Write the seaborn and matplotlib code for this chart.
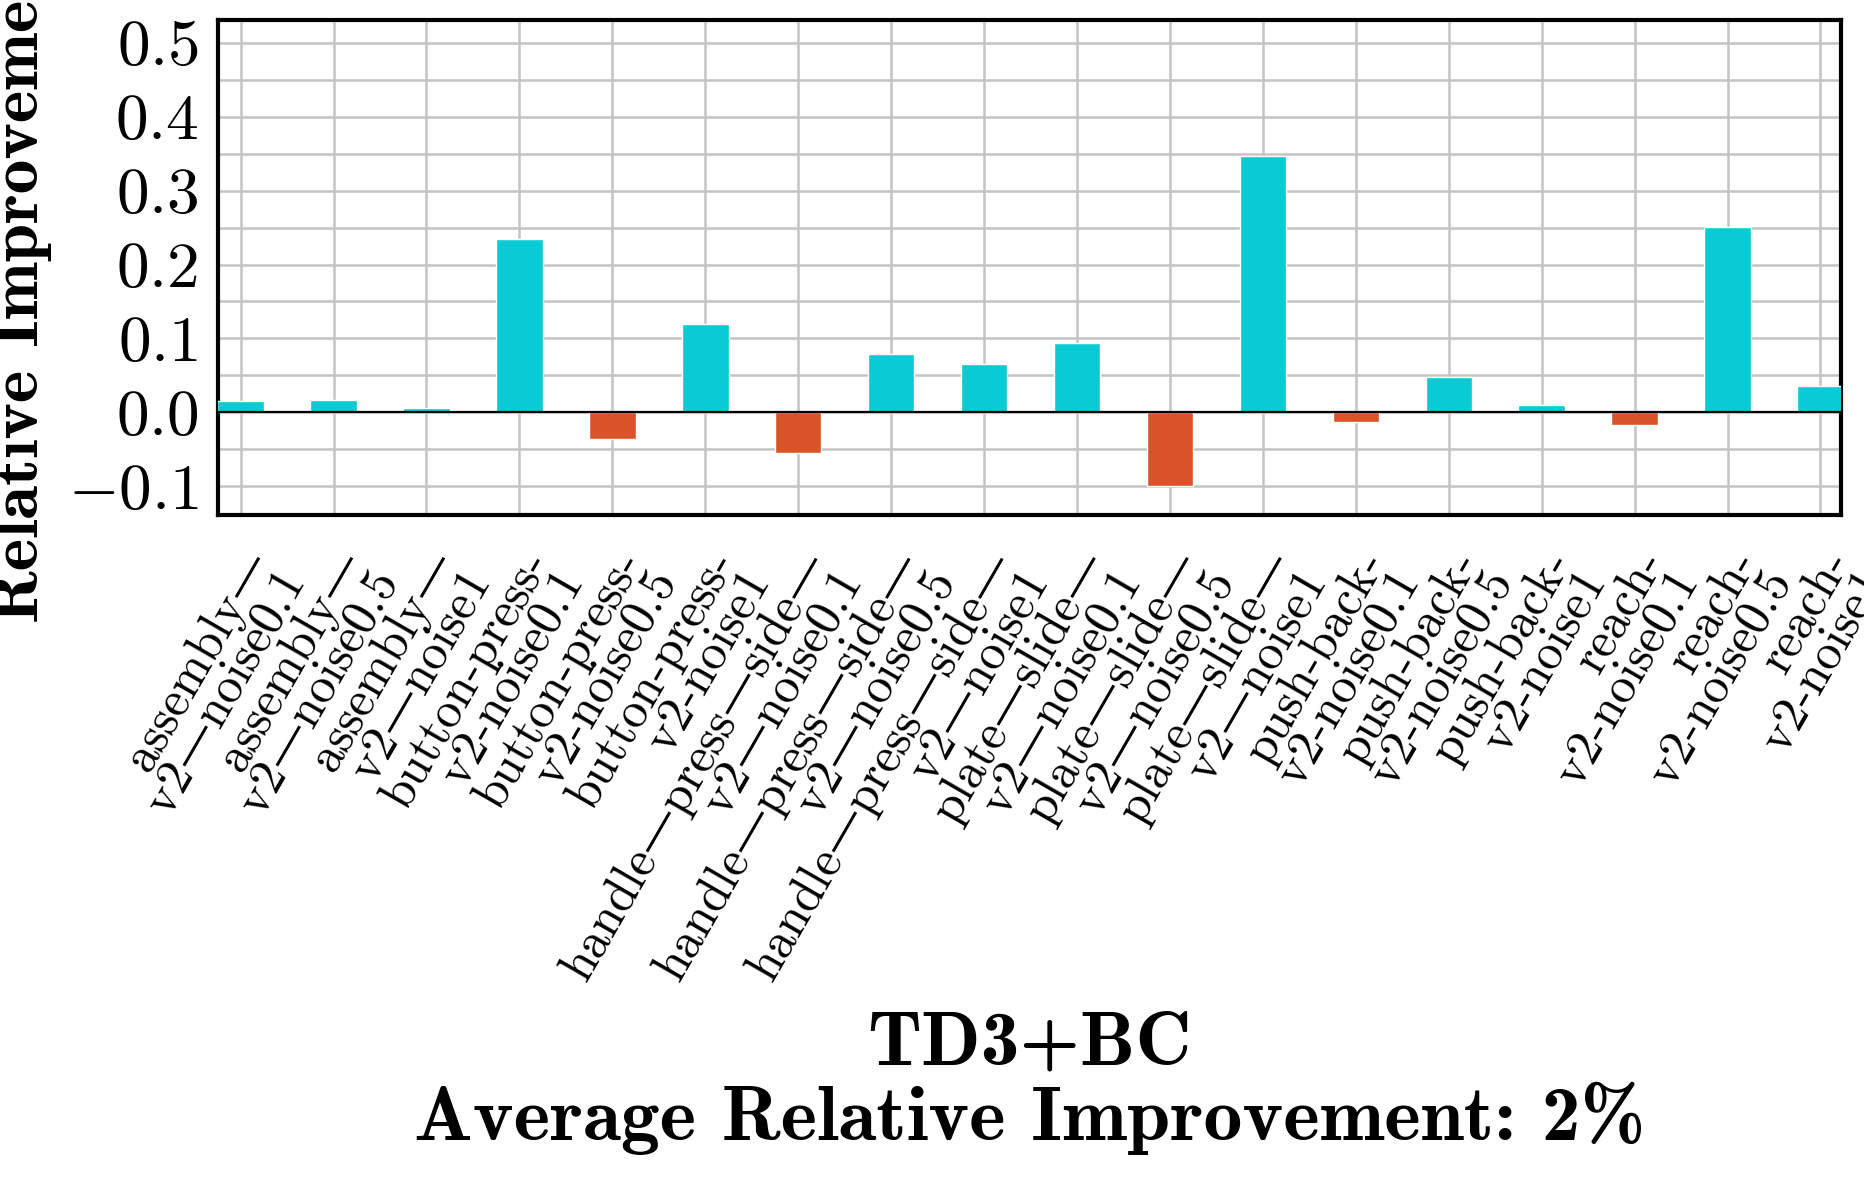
import numpy as np
import pandas as pd
import matplotlib
matplotlib.use("Agg")
import matplotlib.pyplot as plt
import seaborn as sns

tasks = [
    "assembly—\nv2—noise0.1", "assembly—\nv2—noise0.5", "assembly—\nv2—noise1",
    "button-press-\nv2-noise0.1", "button-press-\nv2-noise0.5", "button-press-\nv2-noise1",
    "handle—press—side—\nv2—noise0.1", "handle—press—side—\nv2—noise0.5", "handle—press—side—\nv2—noise1",
    "plate—slide—\nv2—noise0.1", "plate—slide—\nv2—noise0.5", "plate—slide—\nv2—noise1",
    "push-back-\nv2-noise0.1", "push-back-\nv2-noise0.5", "push-back-\nv2-noise1",
    "reach-\nv2-noise0.1", "reach-\nv2-noise0.5", "reach-\nv2-noise1",
]
improvement = [0.015, 0.016, 0.006, 0.235, -0.036, 0.120, -0.055, 0.079, 0.065,
               0.094, -0.100, 0.347, -0.013, 0.048, 0.010, -0.017, 0.251, 0.036]
y_ticks = [-0.1, 0.0, 0.1, 0.2, 0.3, 0.4, 0.5]
title_text = "TD3+BC\nAverage Relative Improvement: 2%"
ylabel_text = "Relative Improvement"

POS, NEG = "#0ACBD3", "#D95429"

sns.set_theme(style="white")
plt.rcParams["font.family"] = ["cmr10", "DejaVu Serif"]
plt.rcParams["mathtext.fontset"] = "cm"
plt.rcParams["axes.formatter.use_mathtext"] = True
plt.rcParams["text.color"] = "black"
plt.rcParams["axes.labelcolor"] = "black"

df = pd.DataFrame({"task": tasks, "value": improvement})
df["sign"] = np.where(df["value"] >= 0, "pos", "neg")

fig = plt.figure(figsize=(18.65, 11.79), dpi=100)
ax = fig.add_axes([0.1169, 0.5632, 0.8702, 0.4198])

sns.barplot(data=df, x="task", y="value", hue="sign", palette={"pos": POS, "neg": NEG},
            dodge=False, width=0.5, legend=False, ax=ax, saturation=1, zorder=3)

ax.axhline(0, color="black", lw=1.6, zorder=4)
ax.set_xlim(-0.243, 17.22)
ax.set_ylim(-0.139, 0.531)
ax.set_yticks(y_ticks)
ax.set_yticks(np.arange(-0.1, 0.55, 0.05), minor=True)
ax.grid(True, which="both", color="#C4C4C4", lw=1.8, zorder=0)
ax.set_axisbelow(True)

for s in ax.spines.values():
    s.set_color("black")
    s.set_linewidth(3)

ax.tick_params(axis="y", which="major", direction="out", length=10, width=2.5,
               color="#333333", labelcolor="black", labelsize=47, pad=4)
ax.tick_params(axis="y", which="minor", length=0)
ax.tick_params(axis="x", which="major", direction="out", length=12, width=2.5,
               color="#333333", labelcolor="black", labelsize=36, pad=8)
plt.setp(ax.get_xticklabels(), rotation=60, ha="right", va="top",
         rotation_mode="anchor", linespacing=0.8)

ax.set_ylabel(ylabel_text, family=["cmb10", "DejaVu Serif"], fontsize=50)
ax.yaxis.set_label_coords(-0.102, 0.478)
ax.set_xlabel(title_text, family=["cmb10", "DejaVu Serif"], fontsize=56, linespacing=1.04)
ax.xaxis.set_label_coords(0.5, -1.001)

fig.savefig("out.png", dpi=100)
